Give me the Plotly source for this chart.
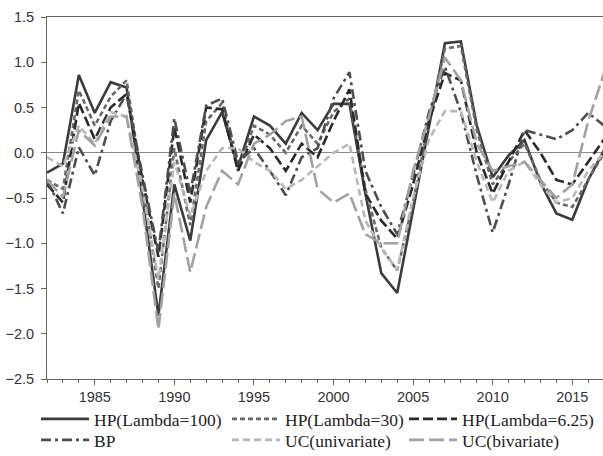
import plotly.graph_objects as go

years = list(range(1982, 2018))

hp100 = [-0.22, -0.12, 0.86, 0.44, 0.78, 0.72, -0.50, -1.80, -0.35, -0.97,
         0.14, 0.45, -0.16, 0.40, 0.30, 0.10, 0.44, 0.25, 0.54, 0.54,
         -0.45, -1.33, -1.55, -0.63, 0.30, 1.21, 1.23, 0.30, -0.27, -0.03,
         0.14, -0.33, -0.67, -0.74, -0.30, 0.03]
hp30 = [-0.30, -0.40, 0.69, 0.30, 0.62, 0.80, -0.35, -1.50, 0.05, -0.80,
        0.35, 0.55, -0.20, 0.30, 0.20, 0.00, 0.30, 0.10, 0.45, 0.60,
        -0.40, -1.05, -1.30, -0.55, 0.35, 1.15, 1.18, 0.25, -0.35, -0.10,
        0.10, -0.30, -0.55, -0.60, -0.30, 0.00]
hp625 = [-0.35, -0.55, 0.55, 0.15, 0.50, 0.65, -0.30, -1.15, 0.28, -0.55,
         0.50, 0.48, -0.20, 0.20, 0.05, -0.20, 0.10, -0.05, 0.35, 0.70,
         -0.45, -0.75, -0.95, -0.35, 0.35, 0.88, 0.80, 0.00, -0.45, -0.10,
         0.25, 0.00, -0.30, -0.35, -0.10, 0.15]
bp = [-0.30, -0.67, 0.06, -0.25, 0.35, 0.65, -0.25, -1.10, 0.38, -0.45,
      0.52, 0.60, -0.10, 0.05, -0.20, -0.47, -0.05, 0.05, 0.60, 0.89,
      -0.20, -0.60, -0.90, -0.25, 0.45, 0.95, 0.45, -0.25, -0.88, -0.35,
      0.25, 0.20, 0.15, 0.25, 0.44, 0.30]
uc_uni = [-0.05, -0.15, 0.30, 0.10, 0.45, 0.40, -0.40, -1.40, -0.10, -0.70,
          -0.20, 0.05, 0.05, -0.10, -0.20, -0.40, -0.30, -0.15, 0.00, 0.10,
          -0.75, -1.05, -1.30, -0.50, 0.15, 0.46, 0.46, -0.10, -0.55, -0.20,
          -0.10, -0.35, -0.55, -0.50, -0.20, 0.00]
uc_biv = [-0.30, -0.49, 0.25, 0.08, 0.40, 0.40, -0.60, -1.95, -0.45, -1.32,
          -0.60, -0.20, -0.35, 0.10, 0.20, 0.35, 0.40, -0.40, -0.55, -0.45,
          -0.90, -1.00, -1.00, -0.20, 0.40, 1.05, 0.80, 0.10, -0.20, -0.15,
          -0.10, -0.30, -0.50, -0.35, 0.35, 0.88]

names = ["HP(Lambda=100)", "HP(Lambda=30)", "HP(Lambda=6.25)",
         "BP", "UC(univariate)", "UC(bivariate)"]
y_tick_vals = [1.5, 1.0, 0.5, 0.0, -0.5, -1.0, -1.5, -2.0, -2.5]
x_tick_vals = [1985, 1990, 1995, 2000, 2005, 2010, 2015]

series = [hp100, hp30, hp625, bp, uc_uni, uc_biv]
styles = [
    dict(color="#3c3c3c", dash="solid"),
    dict(color="#6a6a6a", dash="5px,3px"),
    dict(color="#2a2a2a", dash="10px,4px"),
    dict(color="#4e4e4e", dash="10px,4px,3px,4px"),
    dict(color="#b8b8b8", dash="7px,4px"),
    dict(color="#a2a2a2", dash="15px,5px"),
]

# layout geometry (pixels)
W, H = 603, 456
L, R, T, B = 47, 0, 17, 77
PW, PH = W - L - R, H - T - B

# legend item anchor positions (pixels): left x, row center y
leg_x = [36, 227, 404, 36, 227, 404]
leg_y = [419, 419, 419, 440, 440, 440]

fig = go.Figure()
legend_keys = []
for i, (name, vals, st) in enumerate(zip(names, series, styles)):
    key = "legend" if i == 0 else f"legend{i+1}"
    legend_keys.append(key)
    fig.add_trace(go.Scatter(x=years, y=vals, name=name, mode="lines", legend=key,
                             line=dict(color=st["color"], dash=st["dash"], width=2.6)))

layout_legends = {}
for i, key in enumerate(legend_keys):
    layout_legends[key] = dict(
        orientation="h",
        x=(leg_x[i] - L) / PW, xanchor="left",
        y=1 - (leg_y[i] - T) / PH, yanchor="middle",
        font=dict(family="Liberation Serif, Times New Roman", size=17.5, color="#222222"),
        itemwidth=48, bgcolor="rgba(0,0,0,0)", borderwidth=0,
    )

tick_font = dict(family="Liberation Sans, Arial", size=14.5, color="#333333")

fig.update_layout(
    width=W, height=H,
    margin=dict(l=L, r=R, t=T, b=B, autoexpand=False),
    paper_bgcolor="white", plot_bgcolor="white",
    font=dict(family="Liberation Sans, Arial", size=14, color="#333333"),
    showlegend=True,
    **layout_legends,
)
fig.update_xaxes(range=[1982, 2016.93], tickvals=x_tick_vals, ticks="outside", ticklen=5,
                 tickcolor="#666666", showgrid=False, zeroline=False, automargin=False,
                 showline=True, linecolor="#666666", linewidth=1, mirror=True,
                 tickfont=tick_font,
                 minor=dict(dtick=1, tick0=1982, ticks="outside", ticklen=3, tickcolor="#666666", showgrid=False))
fig.update_yaxes(range=[-2.5, 1.5], tickvals=y_tick_vals, tickformat=".1f", ticks="outside",
                 ticklen=5, tickcolor="#666666", showgrid=False, automargin=False,
                 zeroline=True, zerolinecolor="#8a8a8a", zerolinewidth=1,
                 showline=True, linecolor="#666666", linewidth=1, mirror=True,
                 ticklabelstandoff=4, tickfont=tick_font)

fig.write_html("out.html", config={"displayModeBar": False},
               post_script="document.body.style.margin='0px';document.body.style.overflow='hidden';")
